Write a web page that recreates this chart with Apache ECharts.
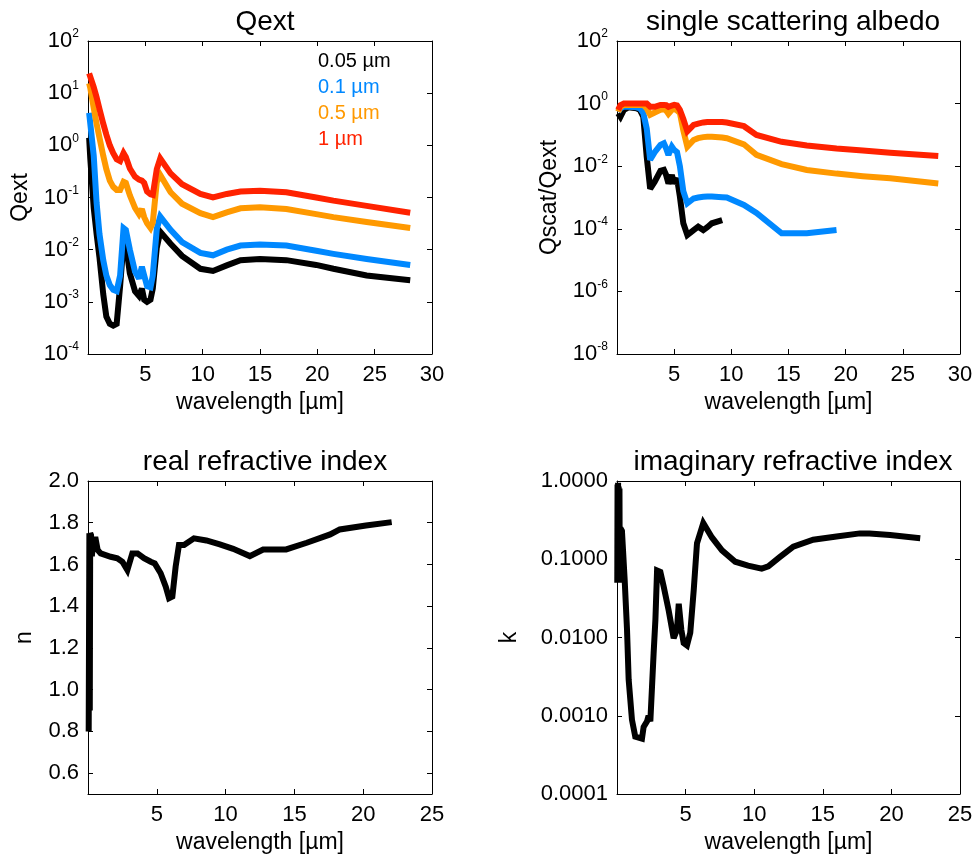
<!DOCTYPE html>
<html>
<head>
<meta charset="utf-8">
<script src="https://cdn.jsdelivr.net/npm/echarts@6/dist/echarts.min.js"></script>
<style>
  html, body { margin: 0; padding: 0; background: #ffffff; }
  #chart { width: 977px; height: 856px; }
</style>
</head>
<body>
<div id="chart"></div>
<script>
// ---- extinction efficiency, four grain radii ----
const wlQext = [0.1, 0.2, 0.5, 0.75, 1.0, 1.33, 1.6, 1.9, 2.2, 2.5, 2.8, 3.1, 3.3, 3.65, 4.1, 4.45, 4.7, 4.9,
  5.15, 5.45, 5.65, 6.0, 6.3, 7.2, 8.2, 9.8, 10.9, 12.1, 13.3, 15.0, 17.3, 19.9, 21.4, 24.3, 28.1];
const qext005 = [1.4, 0.56, 0.063, 0.02, 0.0071, 0.0014, 0.00052, 0.00038, 0.00035, 0.00038, 0.002, 0.014, 0.0126,
  0.0035, 0.0016, 0.0013, 0.0018, 0.0011, 0.001, 0.0011, 0.0018, 0.011, 0.022, 0.013, 0.0076, 0.0043, 0.0039,
  0.005, 0.0063, 0.0066, 0.0063, 0.0051, 0.0043, 0.0032, 0.0026];
const qext01 = [4.2, 4.0, 0.63, 0.079, 0.02, 0.0063, 0.0032, 0.0021, 0.0017, 0.0016, 0.0032, 0.026, 0.024, 0.01,
  0.0038, 0.0028, 0.0047, 0.0032, 0.002, 0.0019, 0.0032, 0.025, 0.043, 0.024, 0.014, 0.0087, 0.0078, 0.01,
  0.012, 0.0126, 0.012, 0.0095, 0.0083, 0.0066, 0.0051];
const qext05 = [15.5, 12.6, 5.2, 2.6, 1.4, 0.63, 0.35, 0.21, 0.16, 0.14, 0.14, 0.2, 0.19, 0.11, 0.063, 0.048, 0.06,
  0.042, 0.032, 0.026, 0.033, 0.2, 0.27, 0.126, 0.076, 0.05, 0.042, 0.052, 0.062, 0.065, 0.06, 0.048, 0.042,
  0.034, 0.026];
const qext1 = [24, 25, 13, 8.3, 5.0, 2.6, 1.6, 1.0, 0.71, 0.54, 0.5, 0.71, 0.6, 0.36, 0.25, 0.22, 0.21, 0.19, 0.13,
  0.115, 0.112, 0.35, 0.56, 0.29, 0.18, 0.117, 0.1, 0.117, 0.13, 0.135, 0.126, 0.1, 0.087, 0.069, 0.051];

// ---- single scattering albedo (null where not computed) ----
const wlAlb = [0.1, 0.3, 0.6, 1.0, 1.7, 2.0, 2.3, 2.6, 2.9, 3.3, 3.8, 4.1, 4.3, 4.5, 4.8, 5.0, 5.25, 5.5, 5.8,
  6.15, 6.7, 7.1, 7.55, 7.9, 8.3, 9.2, 9.6, 11.1, 12.2, 14.4, 16.6, 19.2, 21.5, 23.9, 28.1];
const alb005 = [0.49, 0.38, 0.63, 0.76, 0.71, 0.63, 0.38, 0.02, 0.0019, 0.0032, 0.0071, 0.0076, 0.0052, 0.0028,
  0.0052, 0.0028, 0.0041, 0.00107, 0.00015, 0.000063, 0.000091, 0.000117, 0.000091, 0.000112, 0.00015, 0.00019,
  null, null, null, null, null, null, null, null, null];
const alb01 = [0.55, 0.71, 0.79, 0.79, 0.76, 0.71, 0.5, 0.16, 0.016, 0.028, 0.048, 0.054, 0.037, 0.023, 0.042,
  0.033, 0.028, 0.01, 0.0016, 0.00065, 0.00093, 0.001, 0.00105, 0.00107, 0.00107, 0.00102, 0.001, 0.00058,
  0.00032, 0.000072, 0.000072, 0.000091, null, null, null];
const alb05 = [0.55, 0.79, 0.91, 0.91, 0.91, 0.91, 0.91, 0.71, 0.44, 0.52, 0.63, 0.66, 0.6, 0.47, 0.63, 0.68, 0.6,
  0.5, 0.14, 0.042, 0.069, 0.079, 0.085, 0.087, 0.087, 0.083, 0.078, 0.05, 0.023, 0.0117, 0.0076, 0.0058,
  0.0048, 0.0041, 0.0028];
const alb1 = [0.63, 0.89, 1.0, 1.0, 1.0, 1.0, 1.0, 1.0, 0.79, 0.79, 0.91, 0.91, 0.89, 0.79, 0.87, 0.91, 0.87, 0.63,
  0.32, 0.13, 0.21, 0.23, 0.25, 0.26, 0.26, 0.26, 0.25, 0.19, 0.1, 0.06, 0.046, 0.037, 0.032, 0.027, 0.021];

// ---- optical constants ----
const wlN = [0.05, 0.1, 0.13, 0.16, 0.22, 0.28, 0.4, 0.56, 0.7, 0.92, 1.65, 2.13, 2.5, 2.86, 3.22, 3.6, 4.07, 4.56,
  4.85, 5.28, 5.65, 5.89, 6.13, 6.37, 6.61, 6.98, 7.7, 8.6, 9.58, 10.55, 11.76, 12.73, 14.4, 15.9, 17.6, 18.3,
  20.2, 22.07];
const nReal = [0.8, 1.75, 0.9, 1.75, 1.74, 1.64, 1.72, 1.72, 1.67, 1.653, 1.637, 1.63, 1.613, 1.573, 1.653, 1.653,
  1.63, 1.613, 1.605, 1.558, 1.494, 1.438, 1.446, 1.59, 1.693, 1.693, 1.725, 1.715, 1.696, 1.675, 1.64, 1.672,
  1.672, 1.704, 1.744, 1.768, 1.787, 1.803];
const wlK = [0.02, 0.04, 0.06, 0.08, 0.1, 0.12, 0.15, 0.18, 0.2, 0.25, 0.36, 0.56, 0.73, 0.85, 1.09, 1.33, 1.82,
  1.94, 2.19, 2.3, 2.43, 2.55, 2.67, 2.8, 2.92, 3.16, 3.4, 3.77, 4.13, 4.37, 4.5, 4.69, 4.86, 5.1, 5.34, 5.59,
  5.83, 6.29, 6.92, 7.65, 8.62, 9.55, 10.55, 11.03, 11.88, 12.85, 14.3, 16.0, 17.7, 18.4, 19.9, 22.1];
const kImag = [0.05, 0.9, 0.05, 0.95, 0.05, 0.85, 0.05, 0.8, 0.06, 0.25, 0.23, 0.054, 0.0126, 0.0029, 0.00089,
  0.00054, 0.00051, 0.00072, 0.00085, 0.001, 0.00085, 0.0023, 0.0063, 0.017, 0.072, 0.069, 0.045, 0.022, 0.0098,
  0.0125, 0.027, 0.0125, 0.0085, 0.0079, 0.0115, 0.04, 0.16, 0.29, 0.19, 0.13, 0.093, 0.083, 0.076, 0.081,
  0.107, 0.145, 0.178, 0.195, 0.214, 0.214, 0.204, 0.186];

// ---- labels, colours, ticks ----
const radiusLabels = ['0.05 µm', '0.1 µm', '0.5 µm', '1 µm'];
const radiusColors = ['#000000', '#0088ff', '#ff9900', '#ff2200'];
const panelTitles = ['Qext', 'single scattering albedo', 'real refractive index', 'imaginary refractive index'];
const yNames = ['Qext', 'Qscat/Qext', 'n', 'k'];
const xName = 'wavelength [µm]';
const qextTicks = [1e-4, 1e-3, 1e-2, 1e-1, 1, 10, 100];
const albTicks = [1e-8, 1e-6, 1e-4, 1e-2, 1, 100];
const nTicks = [0.6, 0.8, 1.0, 1.2, 1.4, 1.6, 1.8, 2.0];
const kTicks = [0.0001, 0.001, 0.01, 0.1, 1];

const FONT = 'Helvetica, Arial, "Liberation Sans", sans-serif';

const grids = [
  { left: 88, top: 41, width: 344, height: 313 },
  { left: 617, top: 41, width: 343, height: 313 },
  { left: 88, top: 481, width: 344, height: 313 },
  { left: 617, top: 481, width: 343, height: 313 }
];

const pairs = (xs, ys) => xs.map((x, i) => [x, ys[i]]).filter(p => p[1] != null);

const supRich = {
  b: { fontSize: 22, lineHeight: 26, fontFamily: FONT, color: '#000' },
  s: { fontSize: 12, lineHeight: 12, verticalAlign: 'top', fontFamily: FONT, color: '#000' }
};
const powerLabel = v => {
  const e = Math.round(Math.log10(v));
  return '{b|10}{s|' + e + '}';
};

function frameLine() {
  return { show: true, onZero: false, lineStyle: { color: '#000', width: 1 } };
}

function xAxesFor(gi, max) {
  const common = {
    gridIndex: gi, type: 'value', min: 0, max: max, interval: 5,
    axisLine: frameLine(),
    axisTick: { show: true, inside: true, length: 5, lineStyle: { color: '#000', width: 1 } },
    splitLine: { show: false }
  };
  return [
    Object.assign({}, common, {
      position: 'bottom',
      axisLabel: { show: true, showMinLabel: false, fontSize: 22, fontFamily: FONT, color: '#000', margin: 10 },
      name: xName, nameLocation: 'middle', nameGap: 37,
      nameTextStyle: { fontSize: 23, fontFamily: FONT, color: '#000' }
    }),
    Object.assign({}, common, { position: 'top', axisLabel: { show: false } })
  ];
}

function yAxesFor(gi, cfg) {
  const common = {
    gridIndex: gi, type: cfg.type, min: cfg.min, max: cfg.max,
    axisLine: frameLine(),
    axisTick: { show: true, inside: true, length: 5, customValues: cfg.ticks,
      lineStyle: { color: '#000', width: 1 } },
    splitLine: { show: false }
  };
  if (cfg.type === 'log') common.logBase = 10;
  return [
    Object.assign({}, common, {
      position: 'left',
      axisLabel: Object.assign({ show: true, customValues: cfg.ticks, margin: 9, fontSize: 22,
        fontFamily: FONT, color: '#000', formatter: cfg.formatter }, cfg.rich ? { rich: supRich } : {}),
      name: cfg.name, nameLocation: 'middle', nameGap: cfg.nameGap,
      nameTextStyle: { fontSize: 23, fontFamily: FONT, color: '#000' }
    }),
    Object.assign({}, common, { position: 'right', axisLabel: { show: false } })
  ];
}

const xAxis = [].concat(xAxesFor(0, 30), xAxesFor(1, 30), xAxesFor(2, 25), xAxesFor(3, 25));
const yAxis = [].concat(
  yAxesFor(0, { type: 'log', min: 1e-4, max: 100, ticks: qextTicks, formatter: powerLabel, rich: true,
    name: yNames[0], nameGap: 56 }),
  yAxesFor(1, { type: 'log', min: 1e-8, max: 100, ticks: albTicks, formatter: powerLabel, rich: true,
    name: yNames[1], nameGap: 56 }),
  yAxesFor(2, { type: 'value', min: 0.5, max: 2.0, ticks: nTicks, formatter: v => v.toFixed(1),
    name: yNames[2], nameGap: 52 }),
  yAxesFor(3, { type: 'log', min: 1e-4, max: 1, ticks: kTicks, formatter: v => v.toFixed(4),
    name: yNames[3], nameGap: 96 })
);

function lineSeries(name, data, color, gi) {
  return {
    name: name, type: 'line', data: data, xAxisIndex: gi * 2, yAxisIndex: gi * 2,
    showSymbol: false, symbol: 'none', clip: true,
    lineStyle: { color: color, width: 6, join: 'miter', miterLimit: 2.5 },
    itemStyle: { color: color }, emphasis: { disabled: true }
  };
}

const qextSets = [qext005, qext01, qext05, qext1];
const albSets = [alb005, alb01, alb05, alb1];

const series = [];
qextSets.forEach((ys, i) => series.push(lineSeries(radiusLabels[i], pairs(wlQext, ys), radiusColors[i], 0)));
albSets.forEach((ys, i) => series.push(lineSeries(radiusLabels[i], pairs(wlAlb, ys), radiusColors[i], 1)));
series.push(lineSeries('n', pairs(wlN, nReal), '#000000', 2));
series.push(lineSeries('k', pairs(wlK, kImag), '#000000', 3));

const titleCenters = [[260, 3], [788, 3], [260, 443], [788, 443]];
const title = panelTitles.map((t, i) => ({
  text: t, left: titleCenters[i][0], top: titleCenters[i][1], textAlign: 'center',
  textStyle: { fontSize: 28, fontWeight: 'normal', fontFamily: FONT, color: '#000' }
}));

// radius key inside the Qext panel
const graphic = radiusLabels.map((t, i) => ({
  type: 'text', left: 318, top: 51 + i * 26.2, silent: true,
  style: { text: t, fill: radiusColors[i], font: '20px ' + FONT }
}));

const chart = echarts.init(document.getElementById('chart'), null, { renderer: 'canvas' });
chart.setOption({
  animation: false,
  backgroundColor: '#ffffff',
  title: title,
  grid: grids,
  xAxis: xAxis,
  yAxis: yAxis,
  series: series,
  graphic: graphic
});
</script>
</body>
</html>
